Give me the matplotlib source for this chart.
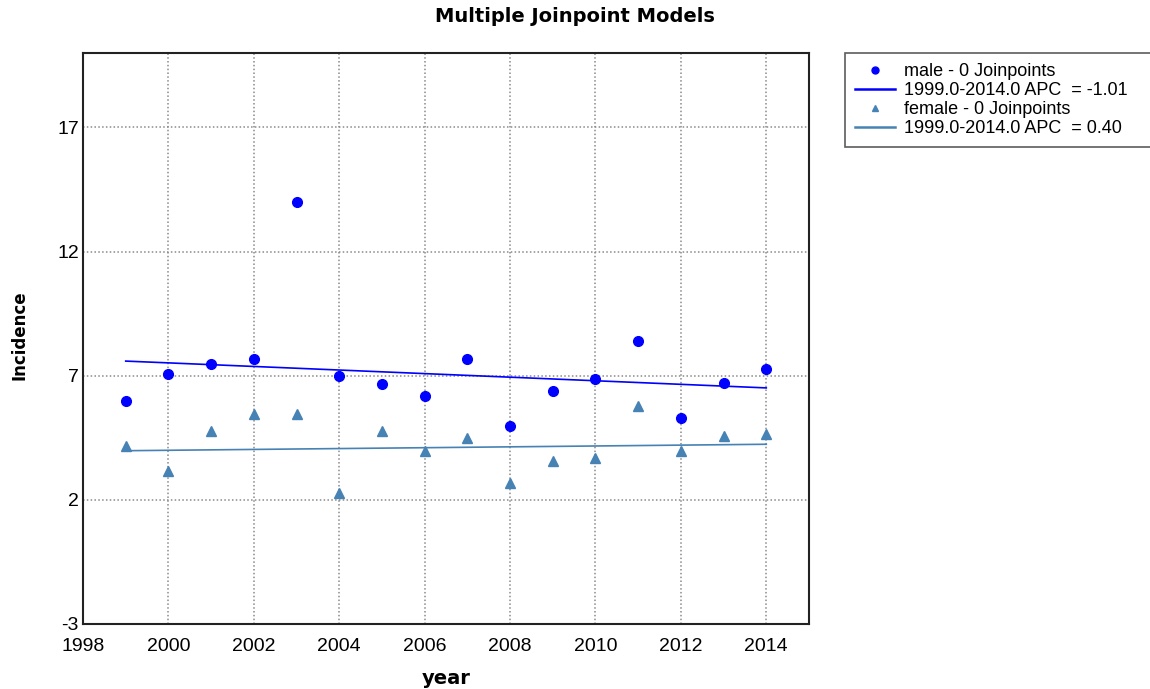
import matplotlib
matplotlib.use("Agg")
import matplotlib.pyplot as plt
from matplotlib.lines import Line2D

plt.rcParams['font.family'] = ['Liberation Sans', 'DejaVu Sans']
plt.rcParams['axes.unicode_minus'] = False

years = [1999, 2000, 2001, 2002, 2003, 2004, 2005, 2006, 2007, 2008,
         2009, 2010, 2011, 2012, 2013, 2014]
male = [5.98, 7.08, 7.47, 7.67, 14.0, 6.98, 6.68, 6.17, 7.68, 4.99,
        6.38, 6.88, 8.38, 5.28, 6.69, 7.28]
female = [4.17, 3.15, 4.76, 5.46, 5.46, 2.27, 4.76, 3.96, 4.48, 2.69,
          3.58, 3.70, 5.77, 3.97, 4.56, 4.66]
fit_years = [1999, 2014]
male_fit = [7.59, 6.51]
female_fit = [3.98, 4.24]
xticks = [1998, 2000, 2002, 2004, 2006, 2008, 2010, 2012, 2014]
yticks = [-3, 2, 7, 12, 17]
legend_labels = ["male - 0 Joinpoints", "1999.0-2014.0 APC  = -1.01",
                 "female - 0 Joinpoints", "1999.0-2014.0 APC  = 0.40"]

male_color = '#0000FF'
female_color = '#4682B4'

fig = plt.figure(figsize=(11.5, 6.89), dpi=100)
ax = fig.add_axes([83/1150, 1-624/689, (809-83)/1150, (624-53)/689])

ax.plot(years, male, 'o', color=male_color, markersize=7, linestyle='none')
ax.plot(fit_years, male_fit, '-', color=male_color, linewidth=1.2)
ax.plot(years, female, '^', color=female_color, markersize=7, linestyle='none')
ax.plot(fit_years, female_fit, '-', color=female_color, linewidth=1.2)

ax.set_xlim(1998, 2015)
ax.set_ylim(-3, 20)
ax.set_xticks(xticks)
ax.set_yticks(yticks)
ax.tick_params(length=0, labelsize=14)
ax.tick_params(axis='x', pad=10)
ax.tick_params(axis='y', pad=3)
ax.grid(True, color='#8a8a8a', linestyle=(0, (1, 1.5)), linewidth=1.1)
for s in ax.spines.values():
    s.set_linewidth(1.5)
    s.set_color('#222222')

ax.set_xlabel('year', fontsize=14, fontweight='bold', family=['DejaVu Sans'])
ax.xaxis.set_label_coords(0.5, -(679-624)/571, transform=ax.transAxes)
ax.xaxis.label.set_va('center')
ax.set_ylabel('Incidence', fontsize=12, fontweight='bold', family=['DejaVu Sans'])
ax.yaxis.set_label_coords(-(83-19)/726, 0.5 + (338.5-335)/571, transform=ax.transAxes)
ax.yaxis.label.set_va('center')
fig.text(575/1150, 1-17/689, 'Multiple Joinpoint Models', ha='center', va='center',
         fontsize=14, fontweight='bold', family=['DejaVu Sans'])

handles = [
    Line2D([], [], marker='o', color=male_color, linestyle='none', markersize=5),
    Line2D([], [], color=male_color, linewidth=1.8),
    Line2D([], [], marker='^', color=female_color, linestyle='none', markersize=5),
    Line2D([], [], color=female_color, linewidth=1.8),
]
leg = fig.legend(handles, legend_labels, loc='upper left',
                 bbox_to_anchor=(845/1150, 1-146/689, (1165-845)/1150, 93/689),
                 mode='expand', borderaxespad=0,
                 fontsize=13, frameon=True, fancybox=False, handlelength=2.2,
                 labelspacing=0.12, handletextpad=0.5, borderpad=0.55)
leg.get_frame().set_edgecolor('#333333')
leg.get_frame().set_linewidth(1.2)

fig.savefig('out.png', dpi=100)
